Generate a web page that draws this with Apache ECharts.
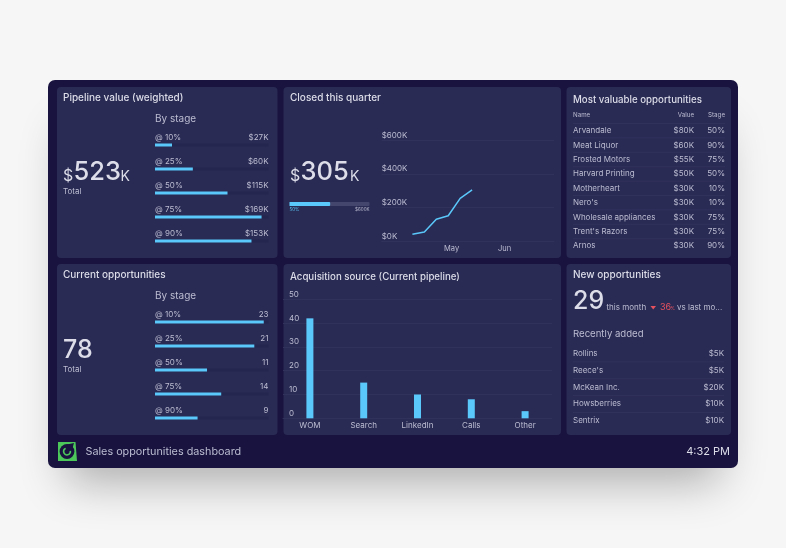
<!DOCTYPE html>
<html><head><meta charset="utf-8">
<style>html,body{margin:0;padding:0;background:#f6f6f6}#c{width:786px;height:548px}</style>
<script src="https://cdn.jsdelivr.net/npm/echarts@6/dist/echarts.min.js"></script>
</head><body><div id="c"></div>
<script>
const stageLabels = ['@ 10%','@ 25%','@ 50%','@ 75%','@ 90%'];
const pipelineValues = [27,60,115,169,153];
const pipelineLabels = ['$27K','$60K','$115K','$169K','$153K'];
const currentValues = [23,21,11,14,9];
const closedDates = ['2023-04-08','2023-04-15','2023-04-22','2023-04-29','2023-05-06','2023-05-13'];
const closedValues = [42,55,131,152,255,305];
const closedTotal = [305];
const sourceNames = ['WOM','Search','LinkedIn','Calls','Other'];
const sourceValues = [42,15,10,8,3];
const valuableNames = ['Arvandale','Meat Liquor','Frosted Motors','Harvard Printing','Motherheart',"Nero's",'Wholesale appliances',"Trent's Razors",'Arnos'];
const valuableValues = ['$80K','$60K','$55K','$50K','$30K','$30K','$30K','$30K','$30K'];
const valuableStages = ['50%','90%','75%','50%','10%','10%','75%','75%','90%'];
const recentNames = ['Rollins',"Reece's",'McKean Inc.','Howsberries','Sentrix'];
const recentValues = ['$5K','$5K','$20K','$10K','$10K'];

const FONT = 'Inter, "Noto Sans", sans-serif';
const BLUE = '#5ac8fa', TXT = '#dcdde9', SUB = '#bcbdd2', CARD = '#2a2b54', OUTER = '#18133f', LINE = '#31325c';
const g = [];
function rect(x,y,w,h,fill,r,extra){g.push(Object.assign({type:'rect',z:-10,shape:{x,y,width:w,height:h,r:r||0},style:{fill}},extra||{}));}
function t(x,y,text,size,color,align,weight){g.push({type:'text',z:20,x,y,style:{text,fontSize:size,fill:color||TXT,align:align||'left',verticalAlign:'middle',fontFamily:FONT,fontWeight:weight||400}});}
function hline(x1,x2,y){g.push({type:'line',z:-5,shape:{x1,y1:y,x2,y2:y},style:{stroke:LINE,lineWidth:1}});}

rect(66,110,654,352,'#fff',8,{style:{fill:'#d8d8d8',shadowBlur:46,shadowColor:'rgba(0,0,0,0.30)',shadowOffsetY:20}});
rect(48,80,690,388,OUTER,7);
[[57,87,220.5,171],[283.5,87,277.5,171],[566.5,87,164.5,171],[57,264,220.5,171],[283.5,264,277.5,171],[566.5,264,164.5,171]]
 .forEach(c=>rect(c[0],c[1],c[2],c[3],CARD,4));

t(63,98,'Pipeline value (weighted)',10,TXT,'left',500);
t(155,119,'By stage',10,SUB);
t(63,176.5,'$',16,TXT); t(73.5,172.5,'523',25.5,TXT,'left',500); t(120.5,176.5,'K',14,TXT);
t(63,192,'Total',8,SUB);

t(290,98,'Closed this quarter',10,TXT,'left',500);
t(290,176.5,'$',16,TXT); t(300.5,172.5,'305',25.5,TXT,'left',500); t(350,176.5,'K',14,TXT);
t(289.5,209.5,'50%',4.5,BLUE); t(369.5,209.5,'$600K',4.5,SUB,'right');

t(573,100,'Most valuable opportunities',9.7,TXT,'left',500);
t(573,115.5,'Name',6.2,SUB); t(694,115.5,'Value',6.2,SUB,'right'); t(725,115.5,'Stage',6.2,SUB,'right');
valuableNames.forEach((n,i)=>{
  const y=130.7+i*14.4;
  hline(573,725,y-7.2);
  t(573,y,n,8,SUB); t(694,y,valuableValues[i],8,SUB,'right'); t(725,y,valuableStages[i],8,SUB,'right');
});

t(63,275,'Current opportunities',10,TXT,'left',500);
t(155,296,'By stage',10,SUB);
t(63,350,'78',25,TXT,'left',500);
t(63,369.5,'Total',8,SUB);

t(290,277,'Acquisition source (Current pipeline)',9.7,TXT,'left',500);

t(573,275,'New opportunities',10,TXT,'left',500);
t(573,301.5,'29',25,TXT,'left',500);
t(606.5,307.5,'this month',8,SUB);
g.push({type:'polygon',z:20,shape:{points:[[650.5,306],[656,306],[653.2,309.5]]},style:{fill:'#e8525f'}});
t(660,307.5,'36',9,'#e8525f'); t(670.5,308.5,'%',4.5,'#e8525f');
t(677,307.5,'vs last mo...',8,SUB);
t(573,334,'Recently added',9.6,SUB);
recentNames.forEach((n,i)=>{
  const y=353.3+i*16.9;
  if(i) hline(573,724,y-8.4);
  t(573,y,n,8,SUB); t(724,y,recentValues[i],8,SUB,'right');
});

g.push({type:'polygon',z:20,shape:{points:[[58,442],[75.5,442],[77,461],[58,461]]},style:{fill:'#4cc85b'}});
g.push({type:'circle',z:21,shape:{cx:67,cy:451.5,r:7.4},style:{fill:OUTER}});
g.push({type:'polygon',z:21,shape:{points:[[67,444.5],[74,443],[71,453]]},style:{fill:OUTER}});
g.push({type:'arc',z:22,shape:{cx:67,cy:451.5,r:3.4,startAngle:-0.2,endAngle:4.3,clockwise:true},style:{stroke:'#4cc85b',lineWidth:1.6,fill:'none'}});
t(85.5,451.5,'Sales opportunities dashboard',10.8,SUB);
t(730,451.5,'4:32 PM',11,TXT,'right');

const grids=[
 {left:155,top:133,width:113.5,height:120},
 {left:155,top:310,width:113.5,height:120},
 {left:381.7,top:140.3,width:172.3,height:101},
 {left:283,top:299.3,width:269,height:119},
 {left:289.5,top:202,width:80,height:4}
];
function stageAxes(i,max,labels){return {
 x:{gridIndex:i,type:'value',min:0,max,show:false},
 y:[{gridIndex:i,type:'category',inverse:true,data:stageLabels,position:'left',axisLine:{show:false},axisTick:{show:false},
     axisLabel:{inside:true,margin:0,interval:0,color:SUB,fontSize:8,fontFamily:FONT,verticalAlign:'bottom',padding:[0,0,3,0]}},
    {gridIndex:i,type:'category',inverse:true,data:labels,position:'right',axisLine:{show:false},axisTick:{show:false},
     axisLabel:{inside:true,margin:0,interval:0,color:SUB,fontSize:8,fontFamily:FONT,verticalAlign:'bottom',padding:[0,0,3,0]}}]
};}
const a0=stageAxes(0,180,pipelineLabels), a1=stageAxes(1,24,currentValues.map(String));
const splitLine={show:true,lineStyle:{color:LINE,width:1}};
const monthLabel=v=>{const d=new Date(v);if(d.getDate()!==1)return '';return d.getMonth()===4?'May':d.getMonth()===5?'Jun':'';};
const option={
 animation:false,
 backgroundColor:'#f6f6f6',
 textStyle:{fontFamily:FONT},
 graphic:g,
 grid:grids,
 xAxis:[a0.x,a1.x,
  {gridIndex:2,type:'time',min:'2023-03-21',max:'2023-06-30',axisLine:{show:true,lineStyle:{color:LINE}},axisTick:{show:false},splitLine:{show:false},
   axisLabel:{formatter:monthLabel,color:SUB,fontSize:7.5,fontFamily:FONT,margin:3,hideOverlap:false,showMinLabel:false,showMaxLabel:false}},
  {gridIndex:3,type:'category',data:sourceNames,axisLine:{show:true,lineStyle:{color:LINE}},axisTick:{show:false},
   axisLabel:{color:SUB,fontSize:8,fontFamily:FONT,margin:3,interval:0}},
  {gridIndex:4,type:'value',min:0,max:600,show:false}
 ],
 yAxis:[a0.y[0],a0.y[1],a1.y[0],a1.y[1],
  {gridIndex:2,type:'value',min:0,max:600,interval:200,axisLine:{show:false},axisTick:{show:false},splitLine,
   axisLabel:{inside:true,margin:0,formatter:'${value}K',color:SUB,fontSize:8,fontFamily:FONT,verticalAlign:'bottom',padding:[0,0,1,0]}},
  {gridIndex:3,type:'value',min:0,max:50,interval:10,axisLine:{show:false},axisTick:{show:false},splitLine,
   axisLabel:{inside:true,margin:6,color:SUB,fontSize:8,fontFamily:FONT,verticalAlign:'bottom',padding:[0,0,1,0]}},
  {gridIndex:4,type:'category',data:['Closed'],show:false}
 ],
 series:[
  {type:'bar',xAxisIndex:0,yAxisIndex:0,data:pipelineValues,barWidth:3,itemStyle:{color:BLUE},showBackground:true,backgroundStyle:{color:'rgba(10,10,50,0.12)'}},
  {type:'bar',xAxisIndex:1,yAxisIndex:2,data:currentValues,barWidth:3,itemStyle:{color:BLUE},showBackground:true,backgroundStyle:{color:'rgba(10,10,50,0.12)'}},
  {type:'line',xAxisIndex:2,yAxisIndex:4,data:closedDates.map((d,i)=>[d,closedValues[i]]),showSymbol:false,lineStyle:{color:BLUE,width:1.5}},
  {type:'bar',xAxisIndex:3,yAxisIndex:5,data:sourceValues,barWidth:7,itemStyle:{color:BLUE}},
  {type:'bar',xAxisIndex:4,yAxisIndex:6,data:closedTotal,barWidth:4,itemStyle:{color:BLUE,borderRadius:[0,1,1,0]},showBackground:true,backgroundStyle:{color:'#45466d',borderRadius:1}}
 ]
};
option.series.push({type:'bar',xAxisIndex:0,yAxisIndex:1,data:[],silent:true});
option.series.push({type:'bar',xAxisIndex:1,yAxisIndex:3,data:[],silent:true});
const chart=echarts.init(document.getElementById('c'),null,{renderer:'canvas'});
chart.setOption(option);
</script></body></html>
